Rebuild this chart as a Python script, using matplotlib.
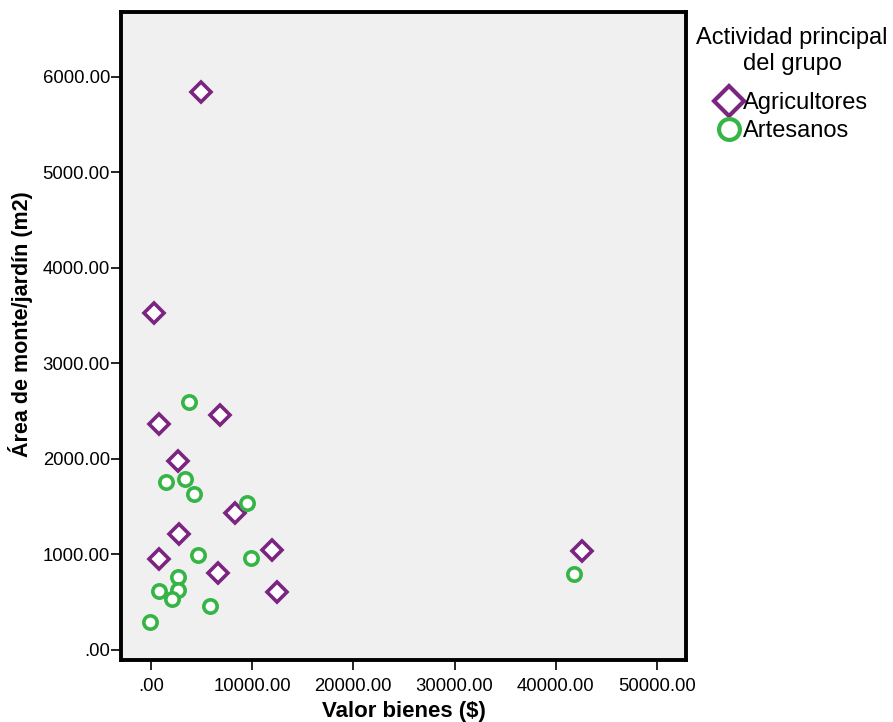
import matplotlib
matplotlib.use("Agg")
import matplotlib.pyplot as plt
from matplotlib.lines import Line2D

plt.rcParams['font.family'] = ['Liberation Sans', 'DejaVu Sans']

# Data
agri_x = [4970, 330, 823, 6790, 2635, 8270, 2767, 823, 11925, 6590, 12420, 42560]
agri_y = [5840, 3526, 2366, 2461, 1982, 1438, 1211, 953, 1050, 810, 611, 1037]

arte_x = [3725, 1450, 3390, 4220, 9516, 4615, 9850, 2635, 2635, 823, 2042, 5830, -66, 41770]
arte_y = [2597, 1759, 1791, 1637, 1542, 992, 960, 761, 628, 618, 534, 464, 290, 796]

x_ticks = [0, 10000, 20000, 30000, 40000, 50000]
x_tick_labels = ['.00', '10000.00', '20000.00', '30000.00', '40000.00', '50000.00']
y_ticks = [0, 1000, 2000, 3000, 4000, 5000, 6000]
y_tick_labels = ['.00', '1000.00', '2000.00', '3000.00', '4000.00', '5000.00', '6000.00']

series_names = ['Agricultores', 'Artesanos']
legend_title = 'Actividad principal\ndel grupo'

purple = '#7B2581'
green = '#35B545'

fig = plt.figure(figsize=(8.93, 7.22), dpi=100)
ax = fig.add_axes([121/893, 1-660/722, (686-121)/893, (660-12)/722])
ax.set_facecolor('#F0F0F0')

ax.plot(agri_x, agri_y, linestyle='none', marker='D', markersize=10.5,
        markerfacecolor='white', markeredgecolor=purple, markeredgewidth=2.6,
        label=series_names[0], zorder=3)
ax.plot(arte_x, arte_y, linestyle='none', marker='o', markersize=9.6,
        markerfacecolor='white', markeredgecolor=green, markeredgewidth=2.6,
        label=series_names[1], zorder=3)

ax.set_xlim(-2960, 52870)
ax.set_ylim(-105, 6680)
ax.set_xticks(x_ticks)
ax.set_xticklabels(x_tick_labels)
ax.set_yticks(y_ticks)
ax.set_yticklabels(y_tick_labels)
ax.tick_params(axis='both', direction='out', length=7, width=1.2, labelsize=13.3, colors='black')
ax.tick_params(axis='x', pad=6)
ax.tick_params(axis='y', pad=1)

for s in ax.spines.values():
    s.set_linewidth(2.8)
    s.set_color('black')

ax.set_xlabel('Valor bienes ($)', fontsize=16, fontweight='bold', labelpad=4)
ax.set_ylabel('Área de monte/jardín (m2)', fontsize=15.5, fontweight='bold')
ax.yaxis.set_label_coords(-0.155, 0.519)

fig.text(792/893, 1-51/722, legend_title, ha='center', va='center',
         multialignment='center', fontsize=17, linespacing=1.22)

handles = [
    Line2D([], [], linestyle='none', marker='D', markersize=15.5,
           markerfacecolor='white', markeredgecolor=purple, markeredgewidth=3),
    Line2D([], [], linestyle='none', marker='o', markersize=15,
           markerfacecolor='white', markeredgecolor=green, markeredgewidth=3),
]
leg = fig.legend(handles, series_names,
                 loc='upper center', bbox_to_anchor=(792/893, 1-80/722),
                 frameon=False, fontsize=17,
                 handlelength=1.1, handletextpad=0.05,
                 labelspacing=0.28, borderpad=0.0)

fig.savefig('out.png', dpi=100)
